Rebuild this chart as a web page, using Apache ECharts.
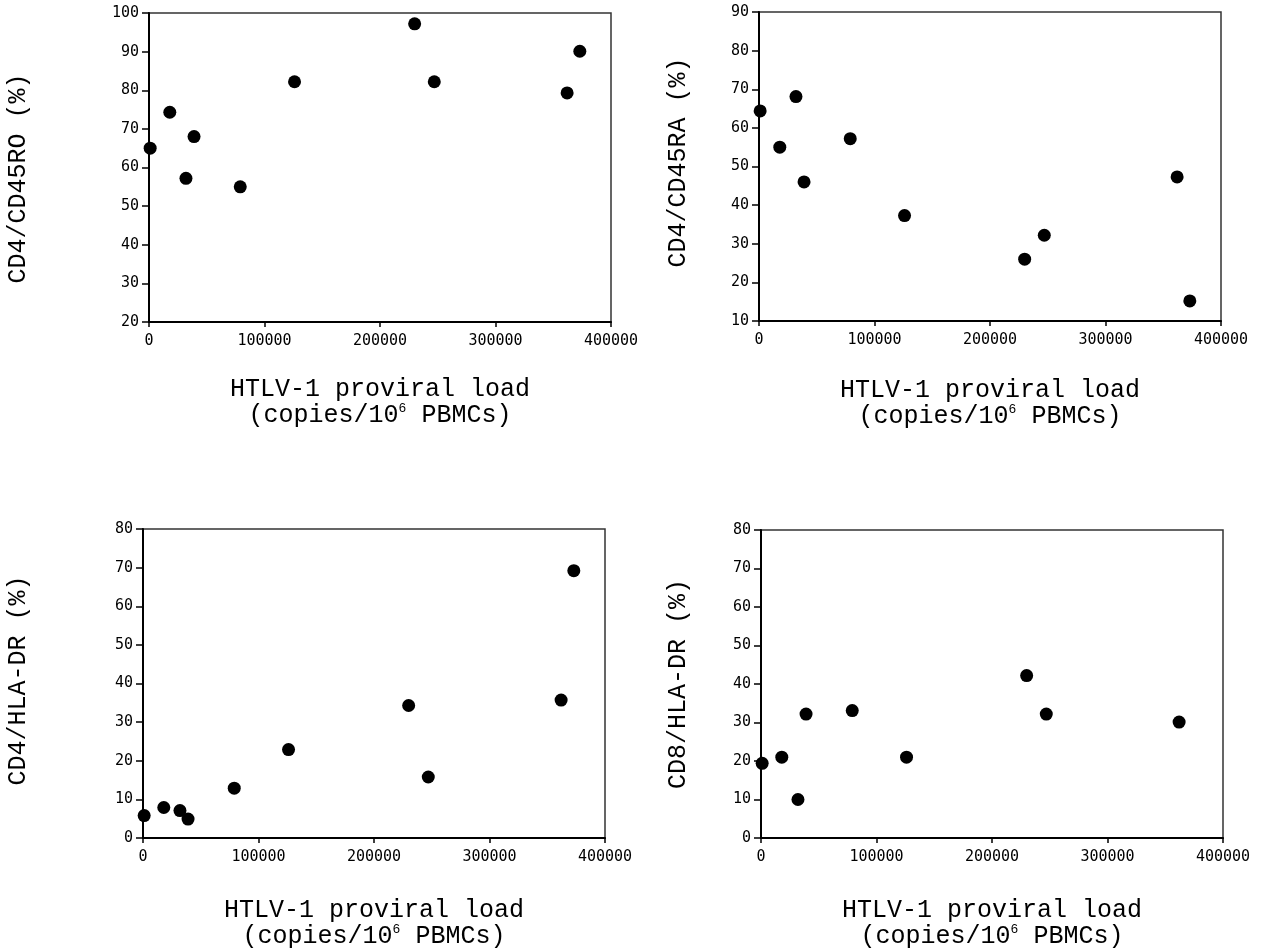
<!doctype html>
<html>
<head>
<meta charset="utf-8">
<title>HTLV-1 proviral load</title>
<script src="https://cdn.jsdelivr.net/npm/echarts@6/dist/echarts.min.js"></script>
<style>
  html, body { margin: 0; padding: 0; background: #fff; }
  #chart { width: 1261px; height: 951px; }
</style>
</head>
<body>
<div id="chart"></div>
<script>
  // proviral load (copies/10^6 PBMCs), same patients in every panel
  var proviralLoad = [1000, 18000, 32000, 39000, 79000, 126000, 230000, 247000, 362000, 373000];

  var cd4cd45ro = [65, 74.3, 57.2, 68, 55, 82.2, 97.2, 82.2, 79.3, 90.1];
  var cd4cd45ra = [64.4, 55, 68.1, 46, 57.2, 37.3, 26, 32.2, 47.3, 15.2];
  var cd4hladr  = [5.8, 7.9, 7.1, 4.9, 12.9, 22.9, 34.3, 15.8, 35.7, 69.2];
  var cd8hladr  = [19.4, 21, 10, 32.2, 33.1, 21, 42.2, 32.2, 30.1, null];

  var yTitles = ['CD4/CD45RO (%)', 'CD4/CD45RA (%)', 'CD4/HLA-DR (%)', 'CD8/HLA-DR (%)'];
  var yRanges = [[20, 100], [10, 90], [0, 80], [0, 80]];
  var xTicks = [0, 400000, 100000];

  var panels = [cd4cd45ro, cd4cd45ra, cd4hladr, cd8hladr];

  var grids = [
    { left: 149, top: 13, width: 462, height: 309 },
    { left: 759, top: 12, width: 462, height: 309 },
    { left: 143, top: 529, width: 462, height: 309 },
    { left: 761, top: 530, width: 462, height: 308 }
  ];
  var yNameGap = [118, 68, 112, 70];
  var yNamePad = [[0, 22, 0, 0], [0, 0, 0, 8], [0, 0, 0, 6], [0, 0, 0, 0]];
  var xNameGap = [54, 56, 59, 59];

  var tickFont = { fontFamily: 'DejaVu Sans Mono', fontSize: 15, color: '#000' };
  var titleFont = 'Liberation Mono';

  function pairs(ys) {
    var out = [];
    for (var i = 0; i < ys.length; i++) {
      if (ys[i] !== null) out.push([proviralLoad[i], ys[i]]);
    }
    return out;
  }

  var option = { animation: false, grid: [], xAxis: [], yAxis: [], series: [] };

  for (var i = 0; i < 4; i++) {
    var g = grids[i];
    option.grid.push({
      left: g.left, top: g.top, width: g.width, height: g.height,
      show: true, borderColor: '#333', borderWidth: 1.5, backgroundColor: 'transparent'
    });
    option.xAxis.push({
      type: 'value', gridIndex: i,
      min: xTicks[0], max: xTicks[1], interval: xTicks[2],
      splitLine: { show: false },
      axisLine: { show: true, onZero: false, lineStyle: { color: '#000', width: 2 } },
      axisTick: { show: true, length: 5, lineStyle: { color: '#000', width: 1.5 } },
      axisLabel: Object.assign({ margin: 12, formatter: function (v) { return String(v); } }, tickFont),
      name: '{a|HTLV-1 proviral load}\n{a|(copies/10}{s|6}{a| PBMCs)}',
      nameLocation: 'middle',
      nameGap: xNameGap[i],
      nameTextStyle: {
        rich: {
          a: { fontFamily: titleFont, fontSize: 25, lineHeight: 26, color: '#000' },
          s: { fontFamily: titleFont, fontSize: 13, lineHeight: 22, verticalAlign: 'top', color: '#000' }
        }
      }
    });
    option.yAxis.push({
      type: 'value', gridIndex: i,
      min: yRanges[i][0], max: yRanges[i][1], interval: 10,
      splitLine: { show: false },
      axisLine: { show: true, onZero: false, lineStyle: { color: '#000', width: 2 } },
      axisTick: { show: true, length: 7, lineStyle: { color: '#000', width: 1.5 } },
      axisLabel: Object.assign({ margin: 10 }, tickFont),
      name: yTitles[i],
      nameLocation: 'middle',
      nameGap: yNameGap[i],
      nameTextStyle: {
        fontFamily: titleFont, fontSize: 25, color: '#000', padding: yNamePad[i]
      }
    });
    option.series.push({
      type: 'scatter', xAxisIndex: i, yAxisIndex: i,
      symbol: 'circle', symbolSize: 13,
      itemStyle: { color: '#000', opacity: 1 },
      data: pairs(panels[i])
    });
  }

  var chart = echarts.init(document.getElementById('chart'));
  chart.setOption(option);
</script>
</body>
</html>
